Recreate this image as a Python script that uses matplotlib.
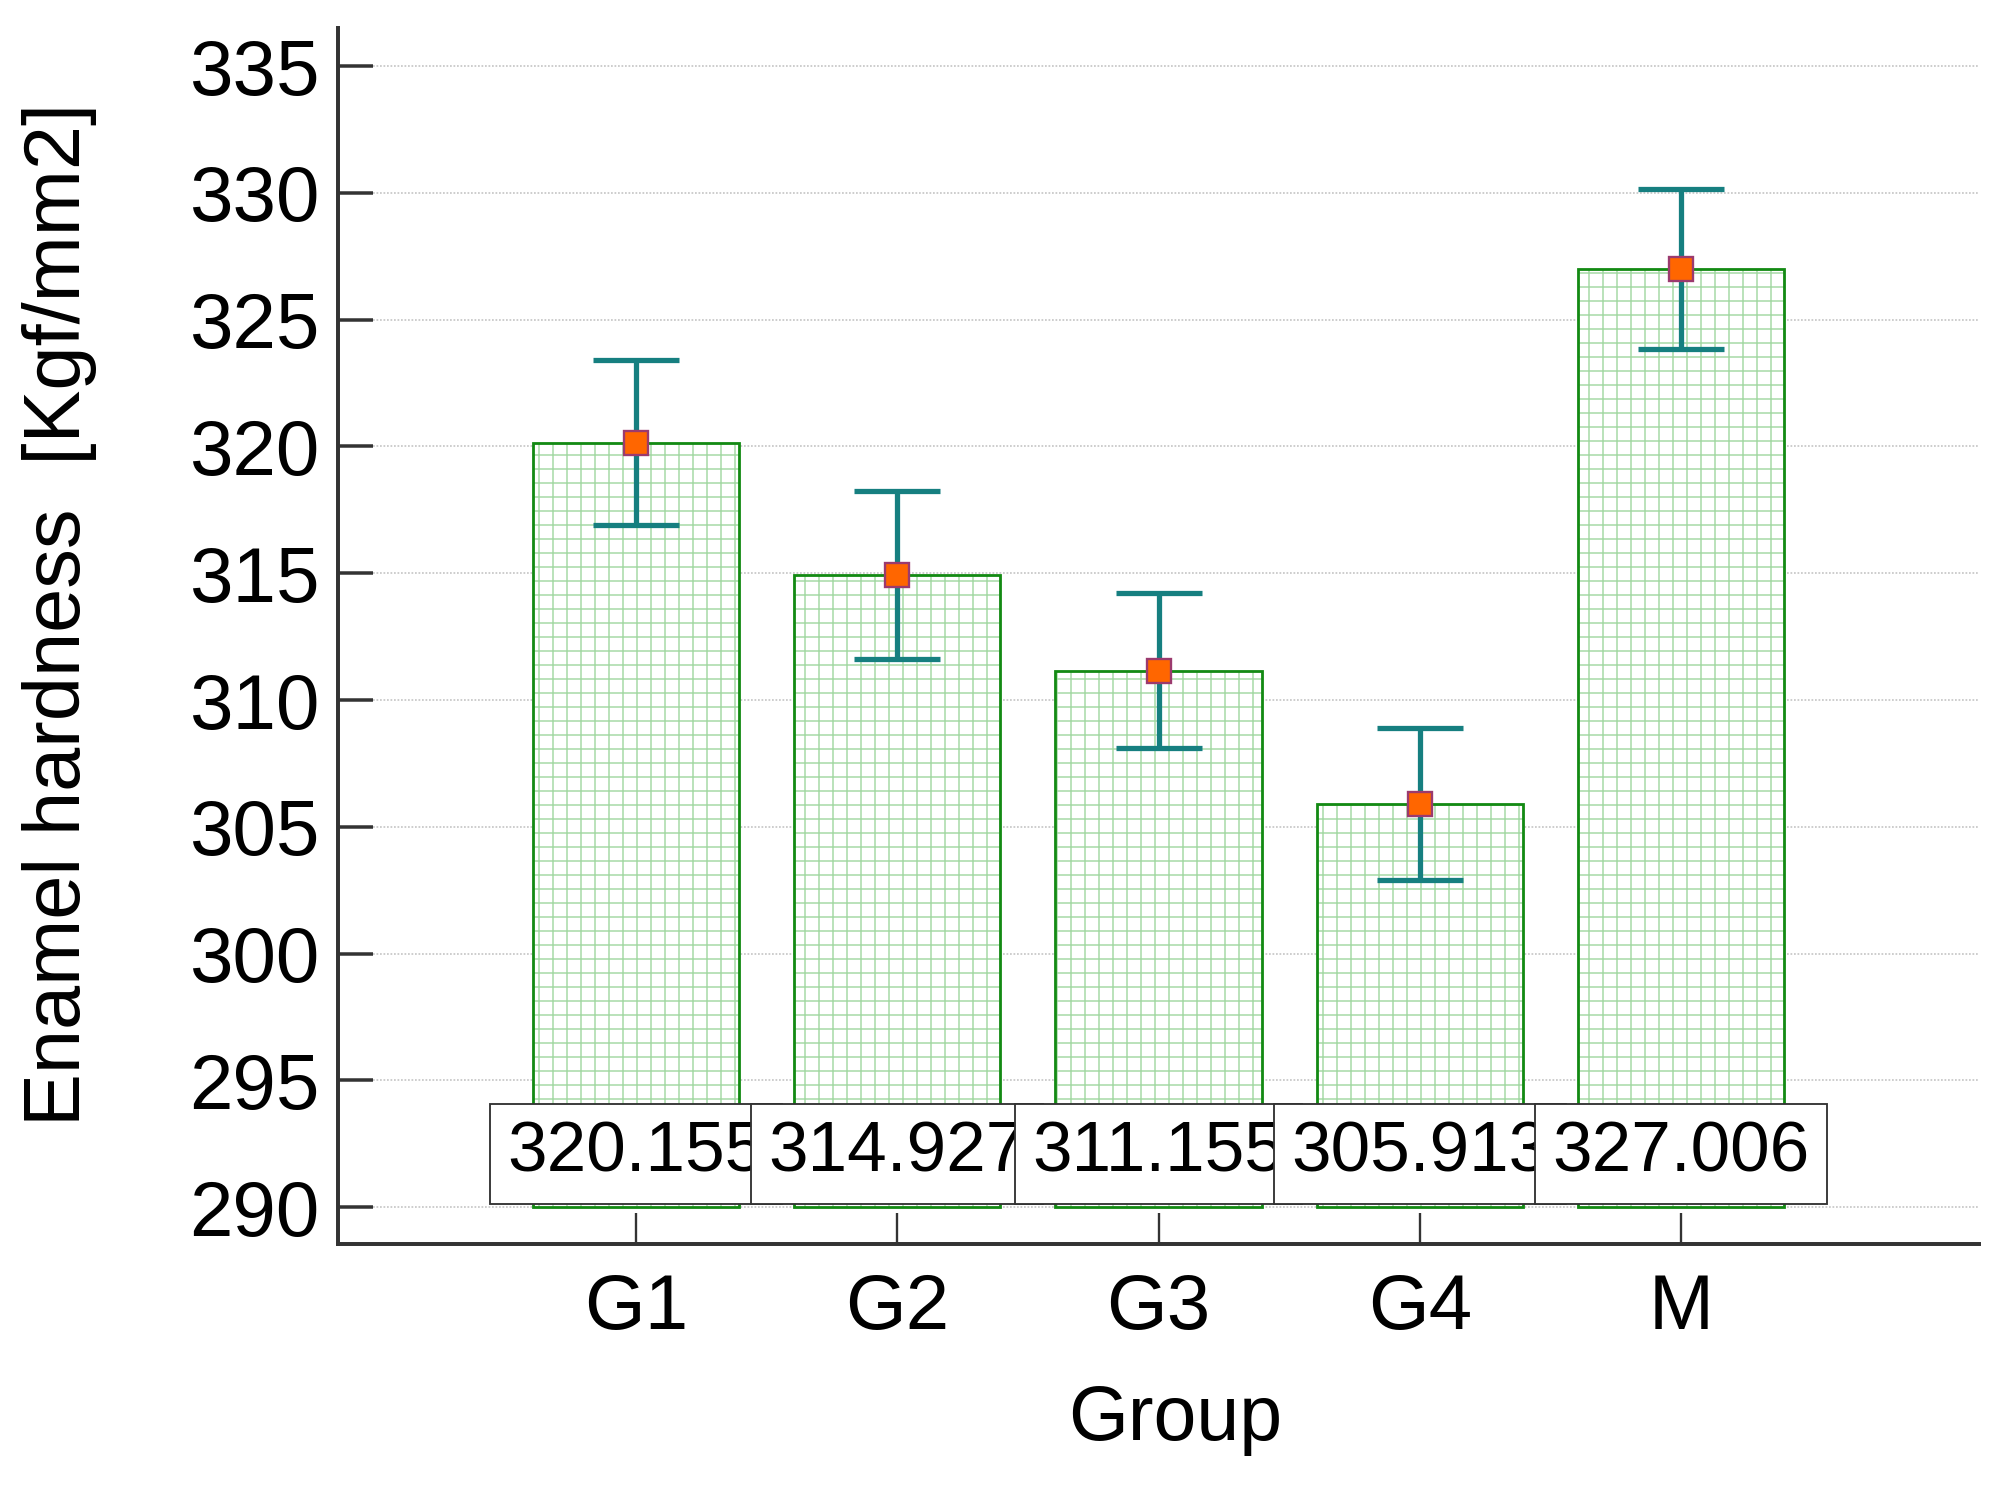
import matplotlib
matplotlib.use("Agg")
import matplotlib.pyplot as plt
import numpy as np

groups = ["G1", "G2", "G3", "G4", "M"]
means = [320.155, 314.927, 311.155, 305.913, 327.006]
errors = [3.25, 3.3, 3.05, 3.0, 3.15]
labels = ["320.155", "314.927", "311.155", "305.913", "327.006"]
yticks = [290, 295, 300, 305, 310, 315, 320, 325, 330, 335]

DPI = 84
plt.rcParams['font.family'] = ['Liberation Sans', 'DejaVu Sans']
plt.rcParams['hatch.linewidth'] = 1.3

fig = plt.figure(figsize=(2013 / DPI, 1488 / DPI), dpi=DPI)
ax = fig.add_axes([338 / 2013, 1 - 1244 / 1488, (1979 - 338) / 2013, (1244 - 28) / 1488])

x = np.arange(len(groups))
base = 290
heights = [m - base for m in means]

# hatch fill in light green, then the darker outline on top
ax.bar(x, heights, bottom=base, width=0.79, color='white', edgecolor='#a6d9a6',
       hatch='+', linewidth=0, zorder=2)
ax.bar(x, heights, bottom=base, width=0.79, color='none', edgecolor='#138a13',
       linewidth=2.4, zorder=3)

ax.errorbar(x, means, yerr=errors, fmt='none', ecolor='#167f80', elinewidth=4.5,
            capsize=37, capthick=4.5, zorder=4)
ax.plot(x, means, 's', ms=20, mfc='#ff6600', mec='#9b3a6e', mew=2, zorder=5)

for i, (xi, lab) in enumerate(zip(x, labels)):
    ax.text(xi, 292.1, lab, ha='center', va='center', fontsize=61, zorder=10 + i,
            bbox=dict(boxstyle='square,pad=0.24', fc='white', ec='#333333', lw=1.6))

ax.set_xlim(-1.14, 5.14)
ax.set_ylim(288.55, 336.5)
ax.set_yticks(yticks)
ax.set_xticks(x)
ax.set_xticklabels(groups)

ax.yaxis.grid(True, linestyle=(0, (1, 1)), color='#c8c8c8', linewidth=1.5, zorder=0)
ax.set_axisbelow(True)

for s in ['top', 'right']:
    ax.spines[s].set_visible(False)
for s in ['left', 'bottom']:
    ax.spines[s].set_color('#333333')
    ax.spines[s].set_linewidth(3.4)

ax.tick_params(axis='y', direction='in', length=30, width=3, color='#333333',
               labelsize=67, pad=16)
ax.tick_params(axis='x', direction='in', length=27, width=2, color='#333333',
               labelsize=67, pad=24)

fig.text(60 / 2013, 1 - 614 / 1488, "Enamel hardness  [Kgf/mm2]", rotation=90,
         ha='center', va='center', fontsize=68)
fig.text(1175 / 2013, 1 - 1420 / 1488, "Group", ha='center', va='center', fontsize=66)

fig.savefig('out.png', dpi=DPI)
